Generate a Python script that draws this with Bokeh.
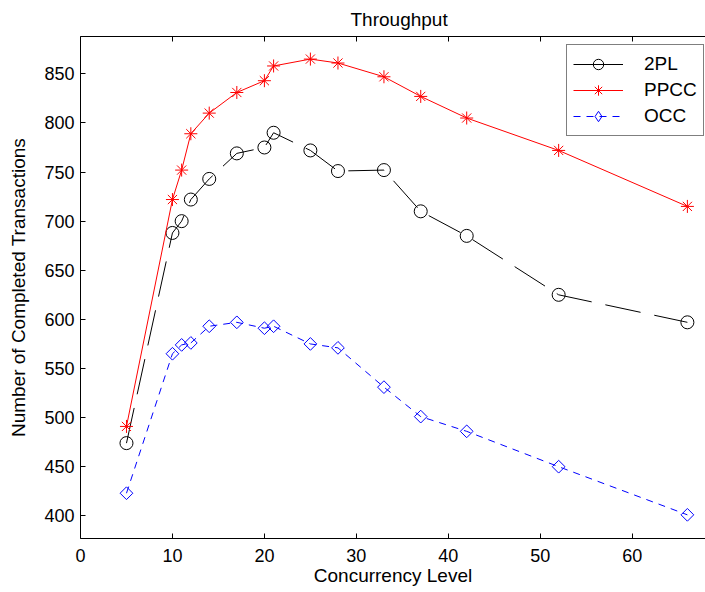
from bokeh.plotting import figure
from bokeh.models import Legend, LegendItem, LinearAxis, FixedTicker, Range1d
from bokeh.embed import file_html
from bokeh.resources import INLINE

# Data
concurrency = [5, 10, 11, 12, 14, 17, 20, 21, 25, 28, 33, 37, 42, 52, 66]
tpl = [474, 688, 700, 722, 743, 769, 775, 790, 772, 751, 752, 710, 685, 625, 597]
ppcc = [491, 722, 752, 789, 810, 831, 843, 858, 865, 861, 847, 827, 805, 772, 715]
occ = [423, 565, 574, 576, 593, 597, 591, 593, 575, 571, 531, 501, 486, 450, 401]
x_ticks = [0, 10, 20, 30, 40, 50, 60]
y_ticks = [400, 450, 500, 550, 600, 650, 700, 750, 800, 850]

FONT = "Liberation Sans"

p = figure(width=705, height=592, x_range=Range1d(0, 67.97), y_range=Range1d(376.9, 888),
           output_backend="svg", toolbar_location=None,
           min_border_left=80, min_border_right=0, min_border_top=36, min_border_bottom=54,
           title="Throughput")
p.outline_line_color = None
p.xgrid.visible = False
p.ygrid.visible = False
p.background_fill_color = "white"

p.title.align = "left"
p.title.text_font = FONT
p.title.text_font_size = "19px"
p.title.text_font_style = "normal"
p.title.text_color = "black"
p.title.standoff = 13
p.title.offset = 270

for ax in (p.xaxis[0], p.yaxis[0]):
    ax.major_tick_in = 5
    ax.major_tick_out = 0
    ax.minor_tick_in = 0
    ax.minor_tick_out = 0
    ax.axis_line_color = "black"
    ax.major_tick_line_color = "black"
    ax.major_label_text_font = FONT
    ax.major_label_text_font_size = "18px"
    ax.major_label_text_color = "black"
    ax.axis_label_text_font = FONT
    ax.axis_label_text_font_size = "19px"
    ax.axis_label_text_font_style = "normal"
    ax.axis_label_text_color = "black"

p.xaxis[0].ticker = FixedTicker(ticks=x_ticks)
p.yaxis[0].ticker = FixedTicker(ticks=y_ticks)
p.xaxis[0].axis_label = "Concurrency Level"
p.yaxis[0].axis_label = "Number of Completed Transactions"
p.xaxis[0].major_label_standoff = 10
p.xaxis[0].axis_label_standoff = 0
p.yaxis[0].major_label_standoff = 6
p.yaxis[0].axis_label_standoff = 12

top = LinearAxis(ticker=FixedTicker(ticks=x_ticks), major_tick_in=5, major_tick_out=0,
                 minor_tick_in=0, minor_tick_out=0, major_label_text_alpha=0,
                 major_label_text_font_size="1px", major_label_standoff=0,
                 axis_line_color="black")
p.add_layout(top, "above")

# 2PL
l1 = p.line(concurrency, tpl, line_color="black", line_width=1, line_dash="36 14")
s1 = p.scatter(concurrency, tpl, marker="circle", size=13, line_color="black",
               fill_alpha=0, line_width=1)
leg_l1 = p.line([-20, -10], [0, 0], line_color="black", line_width=1)

# PPCC
l2 = p.line(concurrency, ppcc, line_color="red", line_width=1)
s2 = p.scatter(concurrency, ppcc, marker="asterisk", size=13, line_color="red", line_width=1)

# OCC
l3 = p.line(concurrency, occ, line_color="blue", line_width=1, line_dash="7 6")
s3 = p.scatter(concurrency, occ, marker="square", angle=0.785398, size=9, line_color="blue",
               fill_alpha=0, line_width=1)
leg_s3 = p.scatter([-20], [0], marker="diamond", size=14, line_color="blue",
                   fill_alpha=0, line_width=1)

legend = Legend(items=[
    LegendItem(label="2PL", renderers=[leg_l1, s1]),
    LegendItem(label="PPCC", renderers=[l2, s2]),
    LegendItem(label="OCC", renderers=[l3, leg_s3]),
], location=(486, 402))
legend.border_line_color = "black"
legend.border_line_width = 1
legend.background_fill_color = "white"
legend.background_fill_alpha = 1
legend.label_text_font = FONT
legend.label_text_font_size = "19px"
legend.label_text_color = "black"
legend.glyph_width = 50
legend.glyph_height = 26
legend.label_height = 20
legend.padding = 6
legend.spacing = 0
legend.label_standoff = 21
legend.margin = 0
p.add_layout(legend)

open("out.html", "w").write(file_html(p, INLINE))
